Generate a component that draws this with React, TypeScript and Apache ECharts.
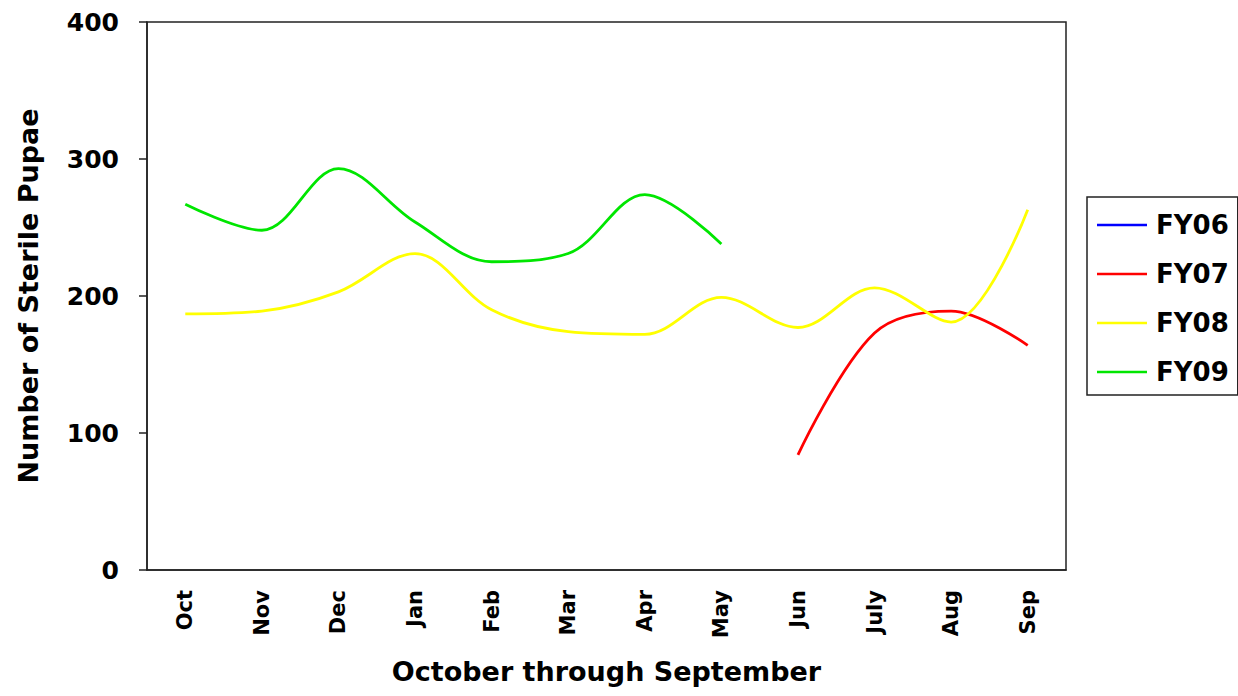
import React, { useEffect, useRef } from "react";
import * as echarts from "echarts";

const months = ["Oct", "Nov", "Dec", "Jan", "Feb", "Mar", "Apr", "May", "Jun", "July", "Aug", "Sep"];
const fy06: (number | null)[] = [null, null, null, null, null, null, null, null, null, null, null, null];
const fy07: (number | null)[] = [null, null, null, null, null, null, null, null, 84, 173, 189, 164];
const fy08: (number | null)[] = [187, 189, 203, 231, 190, 174, 172, 199, 177, 206, 181, 263];
const fy09: (number | null)[] = [267, 248, 293, 254, 225, 231, 274, 238, null, null, null, null];
const yTicks = [0, 100, 200, 300, 400];

const FONT = "DejaVu Sans, Liberation Sans, Arial, sans-serif";

export default function App() {
  const ref = useRef<HTMLDivElement>(null);
  useEffect(() => {
    if (!ref.current) return;
    const chart = echarts.init(ref.current, null, { renderer: "svg" });
    const mk = (name: string, data: (number | null)[], color: string) => ({
      name,
      type: "line",
      data,
      smooth: 0.35,
      showSymbol: false,
      symbol: "none",
      connectNulls: false,
      lineStyle: { color, width: 2.8 },
      itemStyle: { color },
    });
    chart.setOption({
      animation: false,
      backgroundColor: "#ffffff",
      textStyle: { fontFamily: FONT },
      grid: { left: 147, right: 172, top: 22, bottom: 126, show: true, borderColor: "#222", borderWidth: 1.5, backgroundColor: "transparent" },
      legend: {
        orient: "vertical",
        left: 1087,
        top: 197,
        padding: [15, 9, 10, 10],
        itemGap: 23,
        itemWidth: 50,
        itemHeight: 26,
        borderColor: "#222",
        borderWidth: 1.5,
        icon: "path://M0,12 L50,12 L50,14.5 L0,14.5 Z",
        textStyle: { fontFamily: FONT, fontSize: 26, fontWeight: "bold", color: "#000", padding: [0, 0, 0, 4] },
        data: ["FY06", "FY07", "FY08", "FY09"],
      },
      xAxis: {
        type: "category",
        data: months,
        boundaryGap: true,
        name: "October through September",
        nameLocation: "middle",
        nameGap: 88,
        nameTextStyle: { fontFamily: FONT, fontSize: 27, fontWeight: "bold", color: "#000" },
        axisLine: { show: true, lineStyle: { color: "#222", width: 1.5 } },
        axisTick: { show: false },
        axisLabel: { rotate: 90, fontFamily: FONT, fontSize: 21, fontWeight: "bold", color: "#000", margin: 20 },
        splitLine: { show: false },
      },
      yAxis: {
        type: "value",
        min: yTicks[0],
        max: yTicks[yTicks.length - 1],
        interval: 100,
        name: "Number of Sterile Pupae",
        nameLocation: "middle",
        nameGap: 105,
        nameRotate: 90,
        nameTextStyle: { fontFamily: FONT, fontSize: 27, fontWeight: "bold", color: "#000" },
        axisLine: { show: true, lineStyle: { color: "#222", width: 1.5 } },
        axisTick: { show: true, inside: false, length: 8, lineStyle: { color: "#222", width: 1.5 } },
        axisLabel: { fontFamily: FONT, fontSize: 25, fontWeight: "bold", color: "#000", margin: 28 },
        splitLine: { show: false },
      },
      series: [
        mk("FY06", fy06, "#0000ff"),
        mk("FY07", fy07, "#ff0000"),
        mk("FY08", fy08, "#ffff00"),
        mk("FY09", fy09, "#00e600"),
      ],
    });
    return () => chart.dispose();
  }, []);
  return <div ref={ref} style={{ position: "fixed", left: 0, top: 0, width: 1238, height: 696 }} />;
}
